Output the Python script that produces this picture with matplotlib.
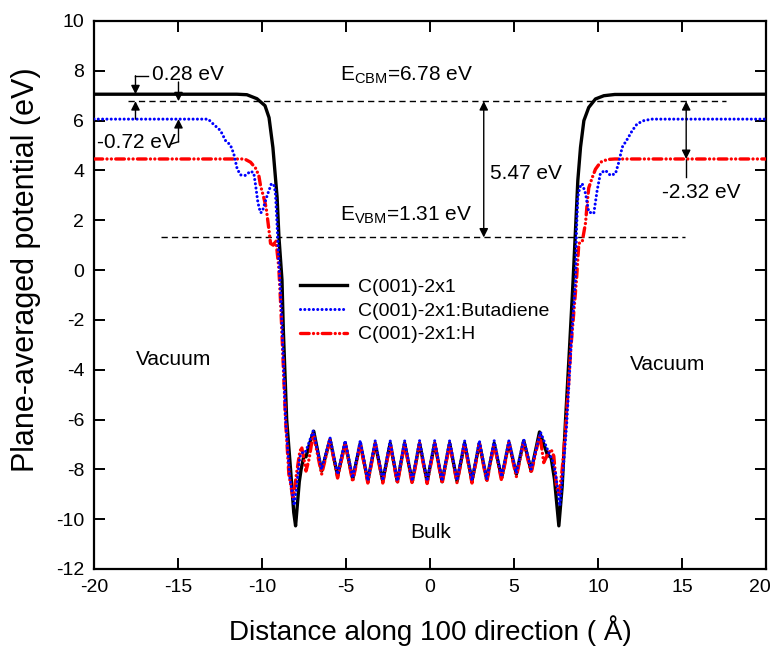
import matplotlib
matplotlib.use("Agg")
import matplotlib.pyplot as plt
from matplotlib.transforms import ScaledTranslation

plt.rcParams['font.family'] = ['Liberation Sans', 'DejaVu Sans']
plt.rcParams['mathtext.fontset'] = 'custom'
plt.rcParams['mathtext.rm'] = 'Liberation Sans'
plt.rcParams['mathtext.it'] = 'Liberation Sans:italic'
plt.rcParams['axes.unicode_minus'] = False

# Band edges of bulk diamond and offsets of each vacuum level from the CBM (eV)
e_cbm = 6.78
e_vbm = 1.31
gap = 5.47
d_bare = 0.28
d_buta = -0.72
d_h = -2.32

# C(001)-2x1 (clean reconstructed surface)
x_bare = [-20, -11.5, -10.9, -10.3, -9.82, -9.58, -9.35, -9.1, -8.99, -8.81, -8.73, -8.53,
          -8.3, -8.11, -8.0, -7.78, -7.67, -7.51, -7.38, -7.15,
          -6.92, -6.45, -5.95, -5.50, -5.05, -4.60, -4.15, -3.70, -3.26, -2.81, -2.37,
          -1.94, -1.51, -1.06, -0.62, -0.17, 0.28, 0.72, 1.17, 1.61, 2.06, 2.50, 2.94,
          3.38, 3.82, 4.26, 4.70, 5.14, 5.58, 6.02, 6.52,
          6.98, 7.21, 7.41, 7.67, 7.87, 8.07, 8.3, 8.52, 8.66, 8.8, 8.96, 9.16, 9.45,
          9.85, 10.35, 11.0, 20]
v_bare = [7.06, 7.06, 7.04, 6.88, 6.6, 6.12, 4.92, 2.92, 1.32, -0.4, -2.4, -6.0,
          -8.0, -9.73, -10.27, -8.5, -8.0, -7.47, -7.5, -6.93,
          -6.47, -8.07, -6.8, -8.27, -6.93, -8.40, -6.95, -8.47, -6.95, -8.48, -6.95,
          -8.5, -6.95, -8.5, -6.95, -8.5, -6.95, -8.5, -6.95, -8.48, -6.95, -8.47, -6.95,
          -8.42, -6.95, -8.35, -6.92, -8.2, -6.85, -8.07, -6.5,
          -7.4, -7.53, -8.4, -10.27, -8.67, -6.0, -3.2, -0.4, 1.6, 3.6, 4.93, 6.0, 6.53,
          6.87, 7.0, 7.05, 7.06]

# C(001)-2x1:Butadiene
x_buta = [-20, -13.2, -12.96, -12.47, -12.17, -11.88, -11.68, -11.48, -11.28, -10.98,
          -10.68, -10.49, -10.39, -10.24, -10.09, -9.99, -9.69, -9.45, -9.3, -9.2, -9.1,
          -8.98, -8.9, -8.8, -8.6, -8.35, -8.08, -7.92, -7.75, -7.61, -7.45, -7.31,
          -6.95, -6.45, -5.95, -5.50, -5.05, -4.60, -4.15, -3.70, -3.26, -2.81, -2.37,
          -1.94, -1.51, -1.06, -0.62, -0.17, 0.28, 0.72, 1.17, 1.61, 2.06, 2.50, 2.94,
          3.38, 3.82, 4.26, 4.70, 5.14, 5.58, 6.02, 6.58,
          6.87, 7.07, 7.27, 7.47, 7.73, 7.93, 8.13, 8.4, 8.66, 8.72, 8.8, 8.92, 9.06,
          9.26, 9.45, 9.75, 9.95, 10.15, 10.45, 10.74, 11.04, 11.24, 11.44, 11.74, 12.04,
          12.33, 12.73, 13.2, 20]
v_buta = [6.06, 6.06, 5.9, 5.6, 5.2, 5.02, 4.67, 4.07, 3.82, 3.8,
          3.97, 3.9, 3.45, 2.7, 2.3, 2.33, 3.0, 3.45, 3.45, 3.1, 1.8,
          0.13, -0.8, -2.4, -6.0, -8.3, -9.45, -8.6, -7.5, -7.33, -7.35, -7.13,
          -6.45, -8.0, -6.73, -8.2, -6.85, -8.35, -6.85, -8.45, -6.85, -8.45, -6.85,
          -8.47, -6.85, -8.47, -6.85, -8.47, -6.85, -8.47, -6.85, -8.45, -6.85, -8.45, -6.85,
          -8.4, -6.85, -8.3, -6.85, -8.15, -6.8, -8.0, -6.51,
          -7.0, -7.33, -7.6, -8.13, -9.47, -8.0, -6.27, -3.0, -0.4, 1.6, 2.93, 3.33, 3.47,
          3.07, 2.33, 2.27, 3.2, 3.9, 4.0, 3.8, 3.87, 4.33, 4.93, 5.25, 5.6,
          5.87, 6.0, 6.06, 6.06]

# C(001)-2x1:H (hydrogen terminated)
x_h = [-20, -11.1, -10.98, -10.68, -10.39, -10.19, -10.09, -9.89, -9.75, -9.62, -9.49,
       -9.33, -9.17, -9.0, -8.9, -8.82, -8.6, -8.4, -8.14, -7.95, -7.75, -7.64, -7.5,
       -7.38, -7.2,
       -6.95, -6.45, -5.95, -5.50, -5.05, -4.60, -4.15, -3.70, -3.26, -2.81, -2.37,
       -1.94, -1.51, -1.06, -0.62, -0.17, 0.28, 0.72, 1.17, 1.61, 2.06, 2.50, 2.94,
       3.38, 3.82, 4.26, 4.70, 5.14, 5.58, 6.02, 6.54,
       6.77, 7.0, 7.21, 7.37, 7.53, 7.67, 7.87, 8.07, 8.4, 8.72, 8.86, 9.06, 9.26, 9.36,
       9.45, 9.65, 9.85, 10.15, 10.55, 11.0, 20]
v_h = [4.46, 4.46, 4.44, 4.33, 4.1, 3.8, 3.4, 2.9, 2.5, 1.8, 1.07,
       1.0, 1.2, 0.1, -1.2, -2.4, -6.0, -8.2, -9.2, -8.2, -7.3, -7.1, -7.6,
       -8.07, -7.6,
       -6.55, -8.2, -6.8, -8.35, -6.95, -8.5, -6.97, -8.55, -6.97, -8.55, -6.97,
       -8.57, -6.97, -8.57, -6.97, -8.57, -6.97, -8.57, -6.97, -8.55, -6.97, -8.55, -6.97,
       -8.5, -6.97, -8.45, -6.95, -8.3, -6.9, -8.15, -6.6,
       -7.73, -7.4, -7.2, -7.47, -8.67, -9.07, -8.0, -6.4, -3.0, -0.4, 1.07, 1.13, 1.9, 2.7,
       3.3, 3.7, 4.05, 4.33, 4.44, 4.46, 4.46]

labels = ['C(001)-2x1', 'C(001)-2x1:Butadiene', 'C(001)-2x1:H']

vac_bare = e_cbm + d_bare
vac_buta = e_cbm + d_buta
vac_h = e_cbm + d_h

fig = plt.figure(figsize=(7.71, 6.48), dpi=100)
ax = fig.add_axes([0.1219, 0.122, 0.8716, 0.8456])

l_bare, = ax.plot(x_bare, v_bare, color='black', lw=2.4, solid_joinstyle='round', zorder=3)
l_h, = ax.plot(x_h, v_h, color='#ff0000', lw=2.4,
               linestyle=(0, (2.6, 1.3, 0.01, 1.3, 0.01, 1.3)),
               dash_capstyle='round', zorder=4)
l_buta, = ax.plot(x_buta, v_buta, color='#0000ff', lw=2.2,
                  linestyle=(0, (0.01, 1.4)), dash_capstyle='round', zorder=5)

# Band-edge reference lines
dash = (0, (4.5, 3))
ax.plot([-18, 17.6], [e_cbm, e_cbm], color='black', lw=1.0, linestyle=dash, zorder=2)
ax.plot([-16, 15.2], [e_vbm, e_vbm], color='black', lw=1.0, linestyle=dash, zorder=2)

head = dict(arrowstyle='-|>', color='black', lw=1.0, mutation_scale=13,
            shrinkA=0, shrinkB=0)
dhead = dict(arrowstyle='<|-|>', color='black', lw=1.0, mutation_scale=13,
             shrinkA=0, shrinkB=0)

# Band gap
ax.annotate('', xy=(3.2, e_cbm), xytext=(3.2, e_vbm), arrowprops=dhead, zorder=6)
ax.text(3.6, 3.88, '%.2f eV' % gap, fontsize=15, va='center', ha='left')

# Offset of the clean surface vacuum level
xa, xb = -17.53, -14.97
ax.plot([xa, xa + 0.75], [7.8, 7.8], color='black', lw=1.0)
ax.annotate('', xy=(xa, vac_bare), xytext=(xa, 7.8), arrowprops=head, zorder=6)
ax.annotate('', xy=(xb, e_cbm), xytext=(xb, 7.55), arrowprops=head, zorder=6)
ax.text(-16.55, 7.87, '%.2f eV' % d_bare, fontsize=15, va='center', ha='left')

# Offset of the butadiene-covered surface
ax.annotate('', xy=(xa, e_cbm), xytext=(xa, vac_buta), arrowprops=head, zorder=6)
ax.annotate('', xy=(xb, vac_buta), xytext=(xb, 5.15), arrowprops=head, zorder=6)
ax.plot([xb - 0.5, xb], [5.05, 5.15], color='black', lw=1.0)
ax.text(-19.8, 5.13, '%.2f eV' % d_buta, fontsize=15, va='center', ha='left')

# Offset of the hydrogenated surface
xc = 15.25
ax.annotate('', xy=(xc, vac_h), xytext=(xc, e_cbm), arrowprops=dhead, zorder=6)
ax.plot([xc, xc], [vac_h, 3.72], color='black', lw=1.0)
ax.text(13.8, 3.13, '%.2f eV' % d_h, fontsize=15, va='center', ha='left')

ax.text(-5.35, 7.8, r'E$_{\mathrm{CBM}}$=%.2f eV' % e_cbm, fontsize=15, va='center', ha='left')
ax.text(-5.35, 2.2, r'E$_{\mathrm{VBM}}$=%.2f eV' % e_vbm, fontsize=15, va='center', ha='left')

ax.text(-15.27, -3.6, 'Vacuum', fontsize=15, ha='center', va='center')
ax.text(14.14, -3.8, 'Vacuum', fontsize=15, ha='center', va='center')
ax.text(0.03, -10.53, 'Bulk', fontsize=15, ha='center', va='center')

ax.legend([l_bare, l_buta, l_h], labels, loc='upper left',
          bbox_to_anchor=(0.295, 0.545), frameon=False, fontsize=14,
          handlelength=2.4, handletextpad=0.6, labelspacing=0.32, borderaxespad=0)

ax.set_xlim(-20, 20)
ax.set_ylim(-12, 10)
ax.set_xticks(range(-20, 21, 5))
ax.set_yticks(range(-12, 11, 2))
ax.tick_params(direction='in', length=8, width=1.4, labelsize=14,
               top=True, right=True, pad=7)
for s in ax.spines.values():
    s.set_linewidth(1.6)

# keep the last x tick label inside the canvas
last = ax.get_xticklabels()[-1]
last.set_transform(last.get_transform() + ScaledTranslation(-6 / 100, 0, fig.dpi_scale_trans))

ax.set_xlabel('Distance along 100 direction ( Å)', fontsize=20, labelpad=14)
ax.set_ylabel('Plane-averaged potential (eV)', fontsize=22)
ax.yaxis.set_label_coords(-0.079, 0.546)

fig.savefig('out.png', dpi=100)
